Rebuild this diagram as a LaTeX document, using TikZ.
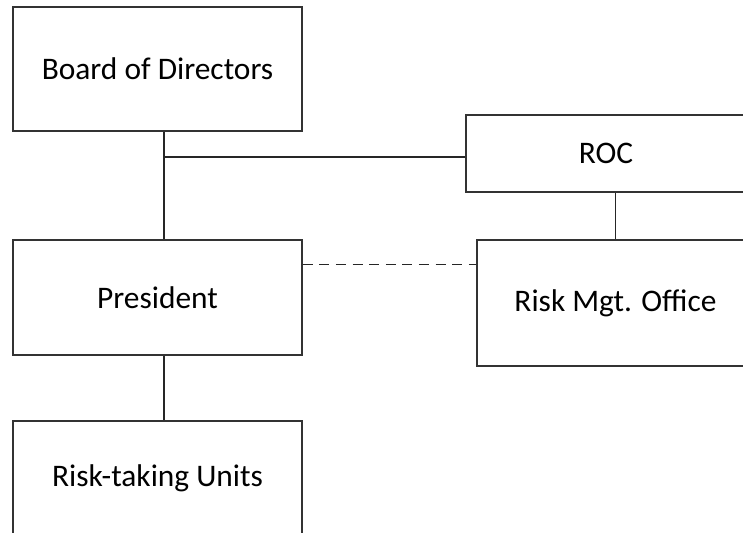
\documentclass[tikz,border=0pt]{standalone}
\usepackage{fontspec}
\setmainfont{Carlito}
\usepackage{tikz}
\usetikzlibrary{calc}
\tikzstyle{unit}=[draw=black!80,line width=0.75pt,rectangle,fill=white,inner sep=2pt,font=\fontsize{15.7}{18}\selectfont]
\tikzstyle{link}=[draw=black!85,line width=0.75pt]

\begin{document}
\begin{tikzpicture}[x=0.5pt,y=-0.5pt]
\clip (0,0) rectangle (743,532);
\fill[white] (0,0) rectangle (743,532);
\node [unit,minimum width=144.5pt,minimum height=62pt] (board) at (157.5,69) {Board of Directors};
\node [unit,minimum width=144.5pt,minimum height=57.5pt] (pres) at (157.5,297.5) {President};
\node [unit,minimum width=144.5pt,minimum height=57pt] (rtu) at (157.5,478) {Risk-taking Units};
\node [unit,minimum width=140pt,minimum height=38.5pt] (roc) at (606,153.5) {ROC};
\node [unit,minimum width=138.5pt,minimum height=63pt] (rmo) at (615.5,303) {Risk Mgt. Office};
\coordinate (trunk) at (164,157);
\coordinate (pd) at ([yshift=-12.5pt]pres.north east);
% reporting lines
\draw [link] (board.south -| trunk) -- (pres.north -| trunk);
\draw [link] (pres.south -| trunk) -- (rtu.north -| trunk);
\draw [link] (trunk) -- (trunk -| roc.west);
\draw [link] (rmo.north) -- (roc.south -| rmo.north);
\draw [link,dash pattern=on 5pt off 3.3pt] (pd) -- (pd -| rmo.west);
\end{tikzpicture}
\end{document}
